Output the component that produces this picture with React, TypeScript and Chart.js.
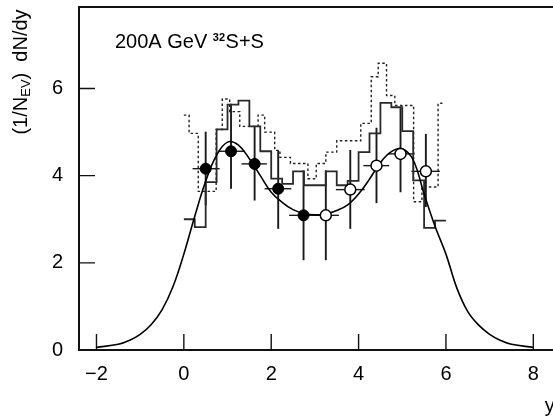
import React, { useEffect, useRef } from 'react';
import { Chart, registerables } from 'chart.js';

Chart.register(...registerables);

// axis ticks
const X_TICKS = [-2, 0, 2, 4, 6, 8];
const Y_TICKS = [0, 2, 4, 6];

// smooth fit curve
const curveX = [-2.0, -1.5, -1.25, -1.0, -0.75, -0.5, -0.25, 0.0, 0.25, 0.5, 0.75, 1.0, 1.25, 1.5, 1.75, 2.0, 2.25, 2.5, 2.75, 3.0,
  3.25, 3.5, 3.75, 4.0, 4.25, 4.5, 4.75, 5.0, 5.25, 5.5, 5.75, 6.0, 6.25, 6.5, 6.75, 7.0, 7.25, 7.5, 8.0];
const curveY = [0.06, 0.13, 0.22, 0.36, 0.58, 0.92, 1.45, 2.2, 3.07, 3.87, 4.47, 4.77, 4.70, 4.39, 4.0, 3.62, 3.39, 3.22, 3.13, 3.10,
  3.12, 3.20, 3.33, 3.58, 3.92, 4.30, 4.55, 4.62, 4.36, 3.58, 2.84, 2.2, 1.42, 0.88, 0.57, 0.36, 0.22, 0.13, 0.06];

// solid histogram: bin edges and contents
const solidEdges = [0.0, 0.25, 0.5, 0.75, 1.0, 1.25, 1.5, 1.75, 2.0, 2.25, 2.5, 2.75, 3.0, 3.25, 3.5, 3.75, 4.0, 4.25, 4.5, 4.75, 5.0, 5.25, 5.5, 5.75, 6.0];
const solidVals = [3.0, 2.82, 3.85, 5.06, 5.63, 5.72, 5.13, 4.56, 3.93, 3.81, 4.10, 3.78, 3.78, 4.10, 3.78, 3.88, 4.54, 4.97, 5.67, 5.57, 5.02, 3.89, 2.80, 2.97];

// dotted histogram: bin edges and contents
const dottedEdges = [0.0, 0.12, 0.33, 0.74, 0.88, 1.05, 1.28, 1.70, 1.85, 2.08, 2.2, 2.44, 2.84, 3.03, 3.25, 3.50, 4.05, 4.29, 4.45, 4.64, 4.83, 5.26, 5.45, 5.82, 5.92];
const dottedVals = [5.39, 4.97, 3.64, 5.06, 5.76, 5.47, 5.13, 5.39, 5.0, 4.58, 4.42, 4.28, 3.93, 4.28, 4.54, 4.80, 5.20, 6.27, 6.58, 5.84, 5.61, 3.40, 3.74, 5.66];

// filled circles (measured)
const filledX = [0.50, 1.08, 1.62, 2.16, 2.74];
const filledY = [4.16, 4.56, 4.27, 3.70, 3.09];
const filledYLo = [3.32, 3.70, 3.43, 2.78, 2.06];
const filledYHi = [5.01, 5.65, 5.13, 4.58, 4.12];
const filledXLo = [0.20, 0.78, 1.32, 1.85, 2.41];
const filledXHi = [0.82, 1.39, 1.90, 2.46, 3.07];

// open circles (reflected)
const openX = [3.25, 3.81, 4.41, 4.96, 5.54];
const openY = [3.09, 3.68, 4.23, 4.50, 4.10];
const openYLo = [2.06, 2.78, 3.37, 3.62, 3.28];
const openYHi = [4.12, 4.59, 5.10, 5.55, 4.96];
const openXLo = [2.95, 3.48, 4.11, 4.67, 5.21];
const openXHi = [3.55, 4.14, 4.70, 5.28, 5.86];

const FONT = '"Liberation Sans", Arial, Helvetica, sans-serif';

function stepData(edges: number[], vals: number[]) {
  const pts = vals.map((v, i) => ({ x: edges[i], y: v }));
  pts.push({ x: edges[edges.length - 1], y: vals[vals.length - 1] });
  return pts;
}

const decor = {
  id: 'decor',
  beforeDatasetsDraw(chart: any) {
    const { ctx, scales } = chart;
    const xs = scales.x, ys = scales.y;
    ctx.save();
    ctx.strokeStyle = '#1a1a1a';
    const draw = (px: number[], py: number[], xlo: number[], xhi: number[], ylo: number[], yhi: number[]) => {
      for (let i = 0; i < px.length; i++) {
        const cx = xs.getPixelForValue(px[i]);
        const cy = ys.getPixelForValue(py[i]);
        ctx.lineWidth = 1.9;
        ctx.beginPath();
        ctx.moveTo(cx, ys.getPixelForValue(ylo[i]));
        ctx.lineTo(cx, ys.getPixelForValue(yhi[i]));
        ctx.stroke();
        ctx.lineWidth = 1.4;
        ctx.beginPath();
        ctx.moveTo(xs.getPixelForValue(xlo[i]), cy);
        ctx.lineTo(xs.getPixelForValue(xhi[i]), cy);
        ctx.stroke();
      }
    };
    draw(filledX, filledY, filledXLo, filledXHi, filledYLo, filledYHi);
    draw(openX, openY, openXLo, openXHi, openYLo, openYHi);
    ctx.restore();
  },
  afterDraw(chart: any) {
    const { ctx, chartArea: a, scales } = chart;
    const xs = scales.x, ys = scales.y;
    ctx.save();
    ctx.strokeStyle = '#111';
    // frame
    ctx.lineWidth = 2;
    ctx.beginPath();
    ctx.moveTo(a.right, a.top);
    ctx.lineTo(a.left, a.top);
    ctx.lineTo(a.left, a.bottom);
    ctx.lineTo(a.right, a.bottom);
    ctx.stroke();
    // inward ticks
    ctx.lineWidth = 1.4;
    ctx.beginPath();
    X_TICKS.forEach((v) => {
      const p = xs.getPixelForValue(v);
      ctx.moveTo(p, a.bottom);
      ctx.lineTo(p, a.bottom - 16);
    });
    Y_TICKS.forEach((v) => {
      if (v === 0) return;
      const p = ys.getPixelForValue(v);
      ctx.moveTo(a.left, p);
      ctx.lineTo(a.left + 16, p);
    });
    ctx.stroke();

    ctx.fillStyle = '#000';
    // in-plot title
    ctx.textBaseline = 'alphabetic';
    ctx.textAlign = 'left';
    let tx = a.left + 36;
    const ty = a.top + 41;
    ctx.font = `20px ${FONT}`;
    const t1 = '200A GeV ';
    ctx.fillText(t1, tx, ty);
    tx += ctx.measureText(t1).width;
    ctx.font = `bold 11px ${FONT}`;
    ctx.fillText('32', tx, ty - 7);
    tx += ctx.measureText('32').width + 0.5;
    ctx.font = `20px ${FONT}`;
    ctx.fillText('S+S', tx, ty);

    // y axis title (rotated)
    ctx.save();
    ctx.translate(27, 72);
    ctx.rotate(-Math.PI / 2);
    const big = `20px ${FONT}`;
    const small = `13px ${FONT}`;
    const parts: [string, string, number][] = [
      ['(1/N', big, 0],
      ['EV', small, 3],
      [')  dN/dy', big, 0],
    ];
    let total = 0;
    parts.forEach(([s, f]) => { ctx.font = f; total += ctx.measureText(s).width; });
    let ox = -total / 2;
    parts.forEach(([s, f, dy]) => {
      ctx.font = f;
      ctx.fillText(s, ox, dy);
      ox += ctx.measureText(s).width;
    });
    ctx.restore();

    // x axis title
    ctx.font = `20px ${FONT}`;
    ctx.textAlign = 'left';
    ctx.fillText('y', xs.getPixelForValue(8.26), a.bottom + 62);
    ctx.restore();
  },
};

export default function App() {
  const ref = useRef<HTMLCanvasElement>(null);
  useEffect(() => {
    if (!ref.current) return;
    const fmt = (v: number) => (v < 0 ? '\u2212' + Math.abs(v) : String(v));
    const chart = new Chart(ref.current, {
      type: 'line',
      data: {
        datasets: [
          {
            label: 'open',
            type: 'scatter',
            data: openX.map((x, i) => ({ x, y: openY[i] })),
            pointRadius: 5.5,
            pointBackgroundColor: '#fff',
            pointBorderColor: '#000',
            pointBorderWidth: 1.5,
            showLine: false,
          } as any,
          {
            label: 'filled',
            type: 'scatter',
            data: filledX.map((x, i) => ({ x, y: filledY[i] })),
            pointRadius: 5.5,
            pointBackgroundColor: '#000',
            pointBorderColor: '#000',
            pointBorderWidth: 1,
            showLine: false,
          } as any,
          {
            label: 'fit',
            data: curveX.map((x, i) => ({ x, y: curveY[i] })),
            borderColor: '#000',
            borderWidth: 1.6,
            pointRadius: 0,
            tension: 0.4,
            fill: false,
          },
          {
            label: 'solid',
            data: stepData(solidEdges, solidVals),
            borderColor: '#2a2a2a',
            borderWidth: 1.8,
            pointRadius: 0,
            stepped: true,
            fill: false,
          },
          {
            label: 'dotted',
            data: stepData(dottedEdges, dottedVals),
            borderColor: '#222',
            borderWidth: 1.4,
            borderDash: [2.5, 2.5],
            pointRadius: 0,
            stepped: true,
            fill: false,
          },
        ],
      },
      options: {
        responsive: false,
        animation: false,
        events: [],
        layout: { padding: { left: 0, right: 23, top: 6, bottom: 0 } },
        plugins: { legend: { display: false }, tooltip: { enabled: false }, title: { display: false } },
        scales: {
          x: {
            type: 'linear',
            min: -2.4,
            max: 9.0,
            grid: { display: false, drawTicks: false },
            border: { display: false },
            afterBuildTicks: (s: any) => { s.ticks = X_TICKS.map((v) => ({ value: v })); },
            afterFit: (s: any) => { s.height = 67; s.paddingLeft = 0; s.paddingRight = 0; s.paddingTop = 0; s.paddingBottom = 0; },
            ticks: {
              autoSkip: false,
              maxRotation: 0,
              padding: 12,
              color: '#000',
              font: { family: FONT, size: 20 },
              callback: (v: any) => fmt(Number(v)),
            },
          },
          y: {
            type: 'linear',
            min: 0,
            max: 7.87,
            grid: { display: false, drawTicks: false },
            border: { display: false },
            afterBuildTicks: (s: any) => { s.ticks = Y_TICKS.map((v) => ({ value: v })); },
            afterFit: (s: any) => { s.width = 79; s.paddingLeft = 0; s.paddingRight = 0; s.paddingTop = 0; s.paddingBottom = 0; },
            ticks: {
              autoSkip: false,
              padding: 16,
              color: '#000',
              font: { family: FONT, size: 20 },
              callback: (v: any) => fmt(Number(v)),
            },
          },
        },
      },
      plugins: [decor],
    });
    return () => chart.destroy();
  }, []);

  return (
    <div style={{ position: 'fixed', left: 0, top: 0, width: 553, height: 417, overflow: 'hidden', background: '#fff' }}>
      <canvas ref={ref} width={600} height={417} style={{ width: 600, height: 417, display: 'block' }} />
    </div>
  );
}
